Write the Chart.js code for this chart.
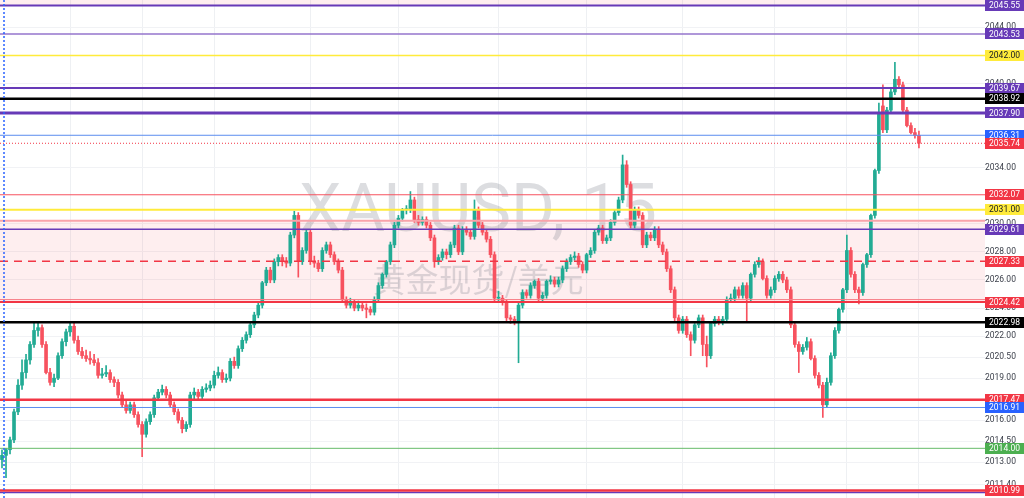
<!DOCTYPE html>
<html>
<head>
<meta charset="utf-8">
<script src="https://cdn.jsdelivr.net/npm/chart.js@4.4.0/dist/chart.umd.min.js"></script>
<style>
html,body{margin:0;padding:0;background:#ffffff;}
canvas{display:block;}
</style>
</head>
<body>
<canvas id="c" width="1024" height="498"></canvas>
<script>
// ---------------- DATA ----------------
const OPEN = [
2013.2,2013.5,2013.9,2014.6,2016.6,2018.5,2019.4,2020.3,2021.4,2022.4,
2022.6,2021.4,2019.4,2018.7,2019.0,2020.6,2021.6,2022.3,2022.7,2021.7,
2020.9,2020.6,2020.4,2020.3,2020.1,2019.2,2019.3,2019.4,2018.9,2018.7,
2017.8,2017.1,2016.7,2017.1,2016.4,2015.7,2015.0,2015.9,2016.4,2017.6,
2018.0,2018.2,2017.8,2017.1,2016.6,2016.0,2015.4,2015.7,2017.8,2018.0,
2017.7,2018.2,2018.3,2018.5,2019.2,2019.4,2018.9,2019.0,2020.2,2019.9,
2021.1,2021.7,2022.1,2022.8,2023.5,2024.2,2025.8,2026.7,2026.0,2027.3,
2027.6,2027.3,2027.2,2029.2,2030.6,2027.3,2028.1,2029.4,2027.3,2027.2,
2026.8,2028.1,2028.5,2027.8,2027.3,2026.7,2024.6,2024.2,2024.4,2024.0,
2024.2,2024.0,2023.9,2023.7,2024.6,2025.6,2026.4,2027.3,2028.5,2029.9,
2030.4,2031.0,2031.0,2031.7,2030.3,2030.1,2030.3,2029.9,2029.0,2027.3,
2027.6,2028.0,2027.8,2028.5,2029.7,2028.0,2029.6,2029.4,2029.1,2031.0,
2029.9,2029.4,2028.9,2027.8,2024.7,2024.7,2024.4,2023.3,2023.2,2023.0,
2024.2,2025.1,2024.9,2025.6,2025.9,2024.7,2024.9,2025.9,2026.0,2025.7,
2026.0,2026.8,2027.3,2027.6,2027.7,2027.1,2026.7,2027.8,2028.1,2029.4,
2029.7,2028.8,2029.0,2030.1,2030.8,2031.7,2034.2,2032.8,2029.9,2031.0,
2030.6,2028.5,2029.2,2029.0,2029.6,2028.5,2028.0,2026.8,2025.3,2023.3,
2022.4,2023.2,2022.1,2021.7,2022.8,2023.3,2021.4,2020.6,2022.9,2023.2,
2023.0,2023.2,2024.6,2024.7,2025.3,2024.9,2025.6,2024.7,2026.4,2027.1,
2027.3,2026.1,2024.9,2025.3,2026.1,2026.4,2026.0,2025.3,2022.8,2021.4,
2020.9,2021.2,2021.6,2020.4,2019.2,2018.5,2017.1,2018.7,2020.6,2022.4,
2023.9,2025.3,2028.1,2026.4,2025.3,2025.1,2027.1,2027.8,2030.6,2033.8,
2038.4,2036.7,2038.1,2039.4,2040.3,2039.9,2038.1,2037.0,2036.5,2036.3
];
const HIGH = [
2013.9,2014.0,2014.8,2016.8,2018.9,2020.3,2020.7,2021.6,2022.9,2023.0,
2022.8,2021.6,2019.7,2019.3,2020.8,2021.8,2022.5,2023.0,2022.9,2022.0,
2021.2,2021.0,2020.9,2020.7,2020.4,2019.7,2019.9,2019.6,2019.1,2018.9,
2018.0,2017.4,2017.3,2017.3,2016.6,2015.9,2016.1,2016.6,2017.8,2018.2,
2018.5,2018.4,2018.0,2017.3,2016.8,2016.2,2015.9,2018.0,2018.3,2018.2,
2018.4,2018.6,2018.8,2019.5,2019.8,2019.6,2019.3,2020.4,2020.5,2021.3,
2021.9,2022.3,2023.0,2023.7,2024.4,2025.9,2026.9,2026.9,2027.5,2027.8,
2027.8,2027.6,2029.4,2030.9,2030.8,2028.3,2029.6,2029.6,2027.7,2027.4,
2028.3,2028.7,2028.7,2028.0,2027.5,2026.9,2024.8,2024.7,2024.6,2024.5,
2024.4,2024.3,2024.1,2024.8,2025.8,2026.5,2027.4,2028.7,2030.1,2030.6,
2031.1,2031.3,2032.3,2031.9,2030.6,2030.5,2030.5,2030.1,2029.2,2027.8,
2028.2,2028.2,2028.7,2029.9,2029.9,2029.8,2029.8,2029.6,2031.7,2031.2,
2030.1,2029.6,2029.1,2028.0,2025.2,2024.9,2024.6,2023.5,2023.4,2024.4,
2025.3,2025.3,2025.8,2026.0,2026.1,2025.1,2026.0,2026.3,2026.2,2026.2,
2027.0,2027.5,2027.8,2028.0,2027.9,2027.3,2027.9,2028.3,2029.6,2029.9,
2029.9,2029.2,2030.3,2031.0,2031.9,2034.9,2034.5,2033.0,2031.2,2031.2,
2030.8,2029.4,2029.4,2029.8,2029.8,2028.7,2028.2,2027.0,2025.5,2023.5,
2023.4,2023.4,2022.3,2022.9,2023.5,2023.5,2022.0,2023.0,2023.4,2023.4,
2023.4,2024.8,2025.0,2025.5,2025.5,2025.8,2025.8,2026.5,2027.3,2027.6,
2027.5,2026.3,2025.5,2026.3,2026.6,2026.6,2026.2,2025.5,2023.0,2021.6,
2021.4,2021.9,2021.8,2020.6,2019.4,2018.7,2019.0,2020.8,2022.6,2024.0,
2025.4,2029.2,2028.3,2026.6,2025.5,2027.2,2027.9,2030.7,2033.9,2038.6,
2039.9,2038.3,2039.6,2041.5,2040.5,2040.1,2038.3,2037.2,2036.8,2036.6
];
const LOW = [
2012.6,2011.9,2013.6,2014.4,2016.4,2018.2,2019.0,2020.0,2021.2,2022.0,
2021.2,2019.3,2018.5,2018.4,2018.9,2020.4,2021.3,2022.0,2021.5,2020.7,
2020.4,2020.2,2020.0,2019.9,2019.0,2019.0,2019.1,2018.7,2018.4,2017.6,
2016.9,2016.5,2016.5,2016.2,2015.5,2013.4,2014.8,2015.7,2016.2,2017.4,
2017.8,2017.6,2016.9,2016.4,2015.8,2015.1,2015.2,2015.5,2017.5,2017.5,
2017.5,2018.0,2018.1,2018.3,2019.0,2018.7,2018.7,2018.8,2019.7,2019.7,
2020.9,2021.5,2021.9,2022.6,2023.3,2024.0,2025.6,2025.8,2025.8,2027.0,
2027.0,2026.9,2027.0,2029.0,2026.2,2027.1,2027.9,2027.1,2026.9,2026.6,
2026.6,2027.9,2027.6,2027.1,2026.5,2024.4,2024.0,2024.0,2023.8,2023.8,
2023.8,2023.3,2023.5,2023.5,2024.4,2025.4,2026.2,2027.1,2028.3,2029.7,
2030.2,2030.7,2030.8,2030.1,2029.9,2029.9,2029.7,2028.8,2026.9,2027.1,
2027.4,2027.5,2027.6,2028.3,2027.8,2027.8,2029.2,2028.9,2028.9,2029.7,
2029.2,2028.7,2027.6,2024.5,2024.4,2024.2,2023.1,2022.9,2022.8,2020.1,
2024.0,2024.7,2024.7,2025.4,2024.5,2024.5,2024.7,2025.7,2025.5,2025.5,
2025.8,2026.6,2027.1,2027.4,2026.9,2026.5,2026.5,2027.6,2027.9,2029.2,
2028.6,2028.6,2028.8,2029.9,2030.6,2031.5,2032.6,2029.7,2029.7,2030.4,
2028.3,2028.3,2028.8,2028.8,2028.3,2027.8,2026.6,2025.1,2023.1,2022.2,
2022.2,2021.9,2020.6,2021.5,2022.6,2020.6,2019.8,2020.4,2022.7,2022.8,
2022.8,2023.0,2024.4,2024.5,2024.7,2024.7,2023.0,2024.5,2026.2,2026.9,
2026.0,2024.7,2024.7,2025.1,2025.9,2025.8,2025.1,2022.6,2021.2,2019.4,
2020.7,2021.0,2020.3,2019.0,2018.3,2016.2,2016.9,2018.5,2020.4,2022.2,
2023.7,2025.1,2026.2,2025.1,2024.3,2024.9,2026.9,2027.6,2030.4,2033.6,
2036.5,2036.5,2037.9,2039.2,2039.7,2037.9,2036.9,2036.4,2036.1,2035.4
];
const CLOSE = [
2013.5,2013.9,2014.6,2016.6,2018.5,2019.4,2020.3,2021.4,2022.4,2022.6,
2021.4,2019.4,2018.7,2019.0,2020.6,2021.6,2022.3,2022.7,2021.7,2020.9,
2020.6,2020.4,2020.3,2020.1,2019.2,2019.3,2019.4,2018.9,2018.7,2017.8,
2017.1,2016.7,2017.1,2016.4,2015.7,2015.0,2015.9,2016.4,2017.6,2018.0,
2018.2,2017.8,2017.1,2016.6,2016.0,2015.4,2015.7,2017.8,2018.0,2017.7,
2018.2,2018.3,2018.5,2019.2,2019.4,2018.9,2019.0,2020.2,2019.9,2021.1,
2021.7,2022.1,2022.8,2023.5,2024.2,2025.8,2026.7,2026.0,2027.3,2027.6,
2027.3,2027.2,2029.2,2030.6,2027.3,2028.1,2029.4,2027.3,2027.2,2026.8,
2028.1,2028.5,2027.8,2027.3,2026.7,2024.6,2024.2,2024.4,2024.0,2024.2,
2024.0,2023.9,2023.7,2024.6,2025.6,2026.4,2027.3,2028.5,2029.9,2030.4,
2031.0,2031.0,2031.7,2030.3,2030.1,2030.3,2029.9,2029.0,2027.3,2027.6,
2028.0,2027.8,2028.5,2029.7,2028.0,2029.6,2029.4,2029.1,2031.0,2029.9,
2029.4,2028.9,2027.8,2024.7,2024.7,2024.4,2023.3,2023.2,2023.0,2024.2,
2025.1,2024.9,2025.6,2025.9,2024.7,2024.9,2025.9,2026.0,2025.7,2026.0,
2026.8,2027.3,2027.6,2027.7,2027.1,2026.7,2027.8,2028.1,2029.4,2029.7,
2028.8,2029.0,2030.1,2030.8,2031.7,2034.2,2032.8,2029.9,2031.0,2030.6,
2028.5,2029.2,2029.0,2029.6,2028.5,2028.0,2026.8,2025.3,2023.3,2022.4,
2023.2,2022.1,2021.7,2022.8,2023.3,2021.4,2020.6,2022.9,2023.2,2023.0,
2023.2,2024.6,2024.7,2025.3,2024.9,2025.6,2024.7,2026.4,2027.1,2027.3,
2026.1,2024.9,2025.3,2026.1,2026.4,2026.0,2025.3,2022.8,2021.4,2020.9,
2021.2,2021.6,2020.4,2019.2,2018.5,2017.1,2018.7,2020.6,2022.4,2023.9,
2025.3,2028.1,2026.4,2025.3,2025.1,2027.1,2027.8,2030.6,2033.8,2037.8,
2036.7,2038.1,2039.4,2040.3,2039.9,2038.1,2037.0,2036.5,2036.3,2035.74
];
const EMPTY_SLOTS = 16;                 // empty bars to the right of the last candle
const Y_TICKS = [2044.00, 2040.00, 2034.00, 2030.00, 2028.00, 2026.00, 2024.00, 2022.00, 2020.50, 2019.00, 2016.00, 2014.50, 2013.00, 2011.40];
const Y_MIN = 2010.46, Y_MAX = 2045.95;
const GRID_X_IDX = [17, 35, 53, 77, 99, 124, 146, 170, 193, 211, 229];
const SESSION_LINE_IDX = 0.5;

// horizontal levels drawn on the chart
const LEVEL_PRICES = [2045.55, 2043.53, 2042.00, 2039.67, 2038.92, 2037.90, 2036.31, 2035.74, 2032.07, 2031.00, 2030.22, 2029.61, 2027.33, 2024.60, 2024.42, 2022.98, 2017.47, 2016.91, 2014.00, 2010.85, 2010.99];
// axis price tags
const TAG_PRICES = [2045.55, 2043.53, 2042.00, 2039.67, 2038.92, 2037.90, 2036.31, 2035.74, 2032.07, 2031.00, 2029.61, 2027.33, 2024.42, 2022.98, 2017.47, 2016.91, 2014.00, 2010.99];
const ZONE_LOW = 2024.42, ZONE_HIGH = 2030.22;
const WATERMARK_TITLE = 'XAUUSD, 15';
const WATERMARK_SUB = '黄金现货/美元';

// ---------------- STYLES ----------------
const UP = '#22ab94', DOWN = '#f7525f';
const PURPLE = '#673ab7', RED = '#f23645', YELLOW = '#ffeb3b', BLUE = '#2962ff', GREEN = '#4caf50';
const LEVEL_STYLES = [
  {c: PURPLE, w: 2}, {c: '#9575cd', w: 1.5}, {c: YELLOW, w: 1.5}, {c: PURPLE, w: 2},
  {c: '#000000', w: 2.5}, {c: PURPLE, w: 3}, {c: '#5b8def', w: 1}, {c: RED, w: 1, d: [1, 2]},
  {c: '#f7525f', w: 1}, {c: YELLOW, w: 2}, {c: '#f9a3aa', w: 2}, {c: PURPLE, w: 1.5},
  {c: RED, w: 1.5, d: [8, 6]}, {c: '#f77c85', w: 1}, {c: RED, w: 2}, {c: '#000000', w: 2.5},
  {c: RED, w: 2.5}, {c: '#5b8def', w: 1}, {c: '#66bb6a', w: 1}, {c: PURPLE, w: 1.5}, {c: RED, w: 2.5}
];
const TAG_STYLES = [
  {bg: PURPLE, fg: '#fff'}, {bg: PURPLE, fg: '#fff'}, {bg: YELLOW, fg: '#131722'}, {bg: PURPLE, fg: '#fff'},
  {bg: '#000', fg: '#fff'}, {bg: PURPLE, fg: '#fff'}, {bg: BLUE, fg: '#fff'}, {bg: RED, fg: '#fff'},
  {bg: RED, fg: '#fff'}, {bg: YELLOW, fg: '#131722'}, {bg: PURPLE, fg: '#fff'}, {bg: RED, fg: '#fff'},
  {bg: RED, fg: '#fff'}, {bg: '#000', fg: '#fff'}, {bg: RED, fg: '#fff'}, {bg: BLUE, fg: '#fff'},
  {bg: GREEN, fg: '#fff'}, {bg: RED, fg: '#fff'}
];

// ---------------- BUILD ----------------
const N = OPEN.length + EMPTY_SLOTS;
const labels = Array.from({length: N}, (_, i) => String(i));
const bodies = OPEN.map((o, i) => [o, CLOSE[i]]);
const wicks = LOW.map((l, i) => [l, HIGH[i]]);
const colors = OPEN.map((o, i) => CLOSE[i] >= o ? UP : DOWN);

const overlay = {
  id: 'overlay',
  beforeDatasetsDraw(chart) {
    const {ctx, chartArea: a, scales: {y}} = chart;
    ctx.save();
    // zones
    ctx.fillStyle = 'rgba(242,54,69,0.085)';
    const zt = y.getPixelForValue(ZONE_HIGH), zb = y.getPixelForValue(ZONE_LOW);
    ctx.fillRect(a.left, zt, a.right - a.left, zb - zt);
    ctx.fillRect(a.left, a.top, a.right - a.left, y.getPixelForValue(LEVEL_PRICES[0]) - a.top);
    // watermark
    ctx.fillStyle = 'rgba(120,123,134,0.26)';
    ctx.textAlign = 'center';
    ctx.textBaseline = 'alphabetic';
    ctx.font = '67px Roboto, "Liberation Sans", sans-serif';
    ctx.fillText(WATERMARK_TITLE, 478, 231);
    ctx.textBaseline = 'middle';
    ctx.font = '33px "Noto Sans CJK SC", sans-serif';
    ctx.fillText(WATERMARK_SUB, 478, 279);
    ctx.restore();
  },
  afterDatasetsDraw(chart) {
    const {ctx, chartArea: a, scales: {x, y}} = chart;
    ctx.save();
    ctx.beginPath();
    ctx.rect(a.left, a.top, a.right - a.left, a.bottom - a.top);
    ctx.clip();
    LEVEL_PRICES.forEach((p, i) => {
      const s = LEVEL_STYLES[i];
      const py = y.getPixelForValue(p);
      ctx.strokeStyle = s.c;
      ctx.lineWidth = s.w;
      ctx.setLineDash(s.d || []);
      ctx.beginPath();
      ctx.moveTo(a.left, py);
      ctx.lineTo(a.right, py);
      ctx.stroke();
    });
    // session / vertical dotted line
    const x0 = x.getPixelForValue(Math.floor(SESSION_LINE_IDX));
    const x1 = x.getPixelForValue(Math.floor(SESSION_LINE_IDX) + 1);
    const vx = x0 + (x1 - x0) * (SESSION_LINE_IDX % 1);
    ctx.strokeStyle = BLUE;
    ctx.lineWidth = 1.5;
    ctx.setLineDash([2, 2]);
    ctx.beginPath();
    ctx.moveTo(vx, a.top);
    ctx.lineTo(vx, a.bottom);
    ctx.stroke();
    ctx.restore();
  },
  afterDraw(chart) {
    const {ctx, chartArea: a, scales: {y}} = chart;
    ctx.save();
    ctx.font = '8.5px Roboto, "Liberation Sans", sans-serif';
    ctx.textAlign = 'center';
    ctx.textBaseline = 'middle';
    const left = a.right, w = chart.width - a.right, h = 11;
    TAG_PRICES.forEach((p, i) => {
      const s = TAG_STYLES[i];
      const py = y.getPixelForValue(p);
      ctx.fillStyle = s.bg;
      ctx.fillRect(left, Math.round(py - h / 2), w, h);
      ctx.fillStyle = s.fg;
      ctx.fillText(p.toFixed(2), left + w / 2, py + 0.5);
    });
    ctx.restore();
  }
};

new Chart(document.getElementById('c'), {
  type: 'bar',
  data: {
    labels,
    datasets: [
      {data: wicks, backgroundColor: colors, barThickness: 1, grouped: false, order: 2, borderWidth: 0},
      {data: bodies, backgroundColor: colors, barThickness: 3, grouped: false, order: 1, borderWidth: 0, minBarLength: 1}
    ]
  },
  options: {
    responsive: false,
    animation: false,
    devicePixelRatio: 1,
    layout: {padding: 0},
    plugins: {legend: {display: false}, tooltip: {enabled: false}},
    scales: {
      x: {
        type: 'category',
        offset: true,
        border: {display: false},
        ticks: {display: false, autoSkip: false},
        grid: {
          offset: false,
          drawTicks: false,
          color: (c) => (c.tick && GRID_X_IDX.includes(c.tick.value)) ? '#eef0f3' : 'rgba(0,0,0,0)'
        },
        afterFit: (s) => { s.height = 0; s.paddingLeft = 0; s.paddingRight = 0; }
      },
      y: {
        position: 'right',
        min: Y_MIN,
        max: Y_MAX,
        border: {display: false},
        grid: {color: '#f1f2f5', drawTicks: false},
        afterBuildTicks: (s) => { s.ticks = Y_TICKS.map(v => ({value: v})); },
        afterFit: (s) => { s.width = 39; s.paddingTop = 0; s.paddingBottom = 0; },
        ticks: {
          padding: 0,
          crossAlign: 'center',
          color: '#3c404b',
          font: {family: 'Roboto, "Liberation Sans", sans-serif', size: 8.5},
          callback: (v) => Number(v).toFixed(2)
        }
      }
    }
  },
  plugins: [overlay]
});
</script>
</body>
</html>
